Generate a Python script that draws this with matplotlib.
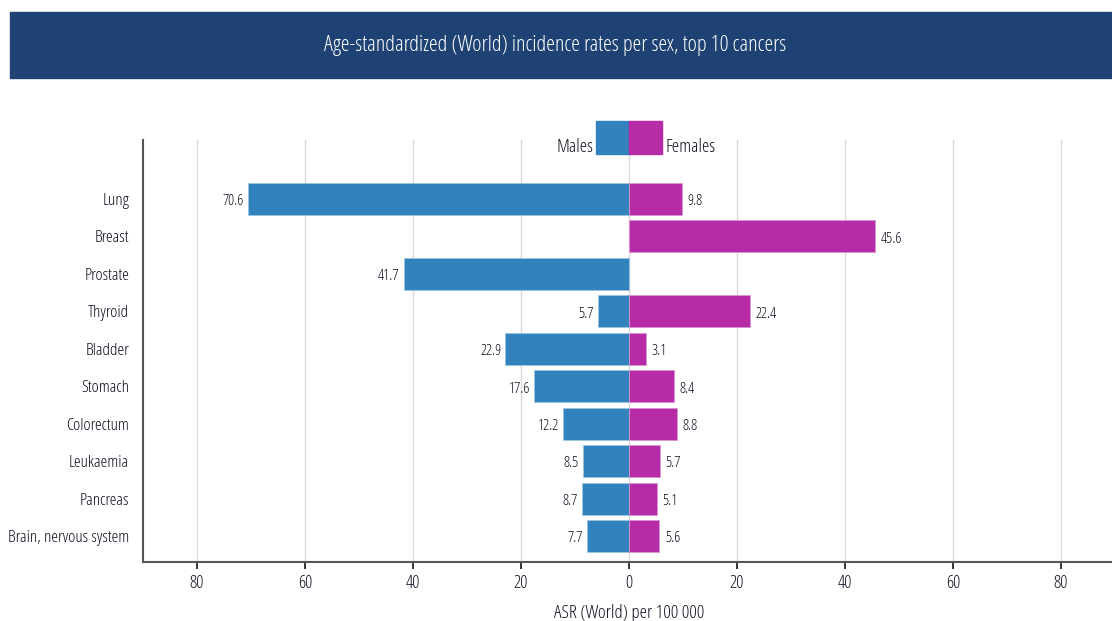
import matplotlib
matplotlib.use("Agg")
import matplotlib.pyplot as plt
from matplotlib import font_manager as fm
from matplotlib.patches import Rectangle

# data
cancers = ["Lung", "Breast", "Prostate", "Thyroid", "Bladder", "Stomach",
           "Colorectum", "Leukaemia", "Pancreas", "Brain, nervous system"]
males = [70.6, None, 41.7, 5.7, 22.9, 17.6, 12.2, 8.5, 8.7, 7.7]
females = [9.8, 45.6, None, 22.4, 3.1, 8.4, 8.8, 5.7, 5.1, 5.6]
xticks = [-80, -60, -40, -20, 0, 20, 40, 60, 80]
xticklabels = [str(abs(t)) for t in xticks]

title = "Age-standardized (World) incidence rates per sex, top 10 cancers"
xlabel = "ASR (World) per 100 000"

blue = "#3182bd"
magenta = "#b82ba6"
navy = "#1f4274"
txt = "#101020"

# Open Sans condensed light if present, otherwise Roboto Condensed
files = [f.fname for f in fm.fontManager.ttflist]
if any(p.endswith("OpenSans-CondLight.ttf") for p in files):
    plt.rcParams["font.family"] = ["Open Sans", "DejaVu Sans"]
    plt.rcParams["font.stretch"] = "condensed"
    plt.rcParams["font.weight"] = 300
else:
    plt.rcParams["font.family"] = ["Roboto Condensed", "DejaVu Sans"]

W, H = 1112, 621
fig = plt.figure(figsize=(W / 100, H / 100), dpi=100)

# title banner
fig.patches.append(Rectangle((10 / W, 1 - 78 / H), 1102 / W, 66 / H,
                             transform=fig.transFigure, color=navy, zorder=0))
fig.text(555 / W, 1 - 46 / H, title, color="white", fontsize=16,
         ha="center", va="center")

ax = fig.add_axes([143 / W, 1 - 562 / H, (1115 - 143) / W, (562 - 140) / H])

y = list(range(len(cancers)))
h = 0.855
for i, (m, f) in enumerate(zip(males, females)):
    if m is not None:
        ax.barh(i, -m, height=h, color=blue, edgecolor="#9cc3e0", linewidth=0.6, zorder=3)
        ax.annotate(f"{m}", (-m, i), xytext=(-3, -2), textcoords="offset points",
                    ha="right", va="center", fontsize=11, color=txt)
    if f is not None:
        ax.barh(i, f, height=h, color=magenta, edgecolor="#dc95d2", linewidth=0.6, zorder=3)
        ax.annotate(f"{f}", (f, i), xytext=(4, -2), textcoords="offset points",
                    ha="left", va="center", fontsize=11, color=txt)

# legend drawn as two small bars above the top category
leg_y, leg_h, leg_w = -1.64, 0.88, 6.1
ax.add_patch(Rectangle((-leg_w, leg_y - leg_h / 2), leg_w, leg_h, color=blue,
                       clip_on=False, zorder=3))
ax.add_patch(Rectangle((0, leg_y - leg_h / 2), leg_w, leg_h, color=magenta,
                       clip_on=False, zorder=3))
ax.text(-leg_w - 0.5, leg_y + 0.25, "Males", ha="right", va="center", fontsize=13.5, color=txt)
ax.text(leg_w + 0.6, leg_y + 0.25, "Females", ha="left", va="center", fontsize=13.5, color=txt)

ax.set_xlim(-90, 90)
ax.set_ylim(9.694, -1.576)
ax.set_yticks(y)
ax.set_yticklabels(cancers, fontsize=12.4, color=txt)
ax.set_xticks(xticks)
ax.set_xticklabels(xticklabels, fontsize=13, color=txt)
ax.tick_params(axis="y", length=0, pad=10)
ax.tick_params(axis="x", length=5, width=1.2, color="#111111", pad=4)
ax.set_xlabel(xlabel, fontsize=13.5, color=txt, labelpad=8)

ax.grid(axis="x", color="#d9d9d9", linewidth=1, zorder=0)
ax.set_axisbelow(True)
for s in ["top", "right"]:
    ax.spines[s].set_visible(False)
for s in ["left", "bottom"]:
    ax.spines[s].set_color("#555555")
    ax.spines[s].set_linewidth(1.5)

fig.savefig("out.png", dpi=100)
